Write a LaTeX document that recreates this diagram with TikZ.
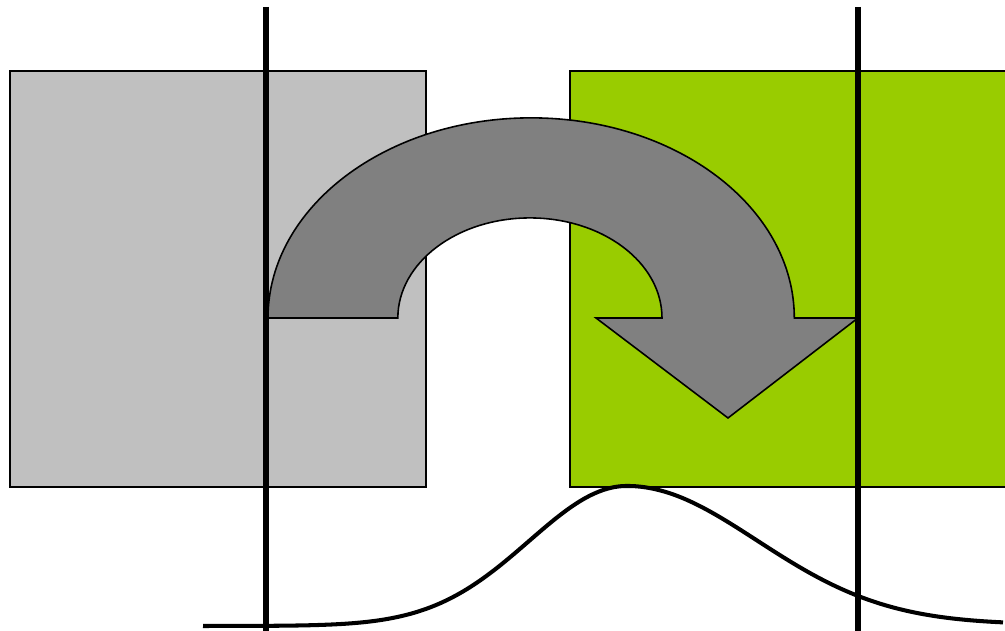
\documentclass[tikz,border=0pt]{standalone}
\definecolor{lightgrayfill}{HTML}{C0C0C0}
\definecolor{limefill}{HTML}{99CC00}
\definecolor{arrowgray}{HTML}{808080}
\tikzset{
  boxstyle/.style={draw=black, line width=0.6pt},
  arrowshape/.style={draw=black, line width=0.45pt, fill=arrowgray},
  barline/.style={draw=black, line width=1.85pt},
  bellcurve/.style={draw=black, line width=1.15pt, line join=round}
}
\begin{document}
\begin{tikzpicture}[x=0.01cm, y=0.01cm]
\useasboundingbox (0,0) rectangle (1005,631);
\clip (0,0) rectangle (1005,631);
% boxes
\draw[boxstyle, fill=lightgrayfill] (10,144) rectangle (426,560);
\draw[boxstyle, fill=limefill] (570,144) rectangle (1015,560);
% curved arrow
\draw[arrowshape] (268,313) arc[start angle=180, end angle=0, x radius=2.63cm, y radius=2.0cm]
  -- (858,313) -- (728,213) -- (596,313) -- (662,313)
  arc[start angle=0, end angle=180, x radius=1.32cm, y radius=1.0cm] -- cycle;
% vertical bars
\coordinate (l1) at (266,624);
\coordinate (l2) at (266,-5);
\coordinate (r1) at (858,624);
\coordinate (r2) at (858,-5);
\draw[barline] (l1) -- (l2);
\draw[barline] (r1) -- (r2);
% bell curve
\draw[bellcurve] plot[domain=203:627, samples=90, smooth] (\x, {5+140*exp(-0.5*((\x-627)/98)^2)})
  -- plot[domain=627:1003, samples=90, smooth] (\x, {6.5+138.5*exp(-0.5*((\x-627)/130)^2)});
\end{tikzpicture}
\end{document}
